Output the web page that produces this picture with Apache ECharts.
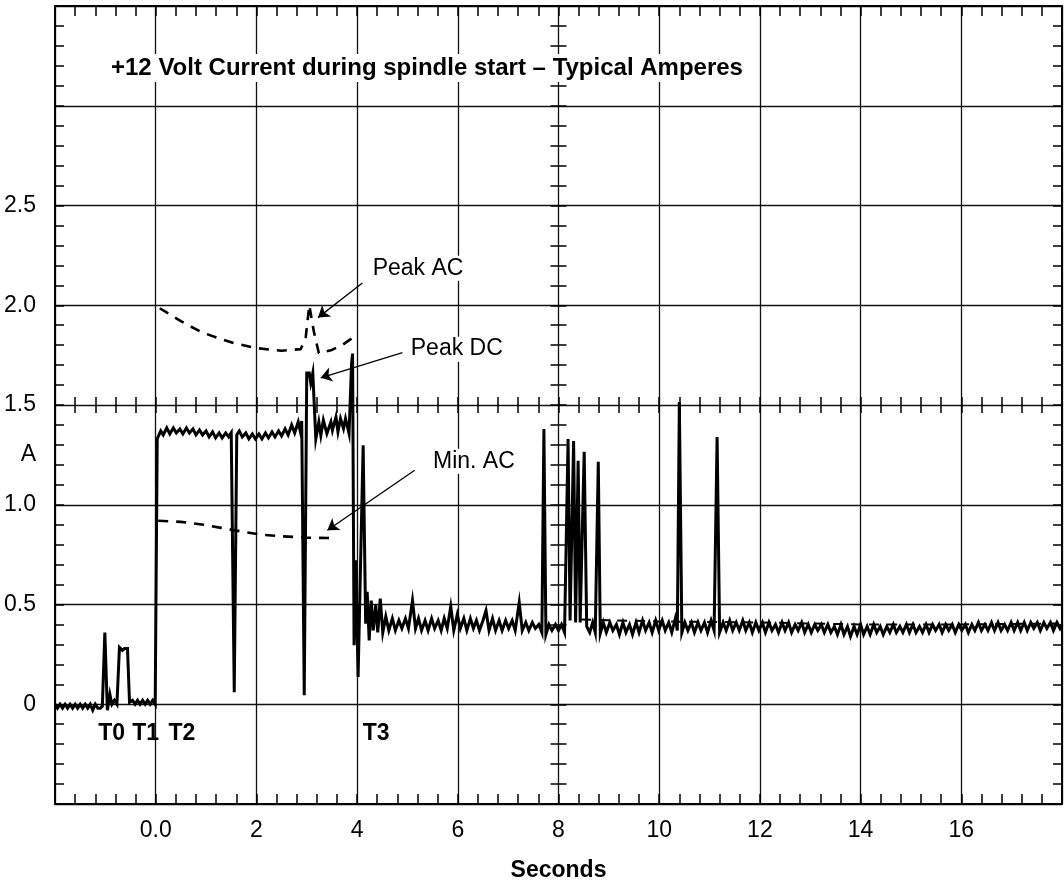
<!DOCTYPE html>
<html><head><meta charset="utf-8">
<script src="https://cdn.jsdelivr.net/npm/echarts@6/dist/echarts.min.js"></script>
<style>html,body{margin:0;padding:0;background:#fff}#c{width:1064px;height:880px}</style>
</head><body><div id="c"></div>
<script>
const titleText = '+12 Volt Current during spindle start \u2013 Typical Amperes';
const xAxisName = 'Seconds';
const xTickValues = [0, 2, 4, 6, 8, 10, 12, 14, 16];
const xTickLabels = ['0.0', '2', '4', '6', '8', '10', '12', '14', '16'];
const yTickValues = [0, 0.5, 1, 1.5, 2, 2.5];
const yTickLabels = ['0', '0.5', '1.0', '1.5', '2.0', '2.5'];
const yUnitValue = 1.25;
const yUnitLabel = 'A';

// main current trace (seconds, amperes)
const preStart = [
  [-2.00,0.00],[-1.95,-0.02],[-1.90,0.00],[-1.85,-0.02],[-1.80,0.00],[-1.75,-0.02],[-1.70,0.00],[-1.65,-0.02],
  [-1.60,0.00],[-1.55,-0.02],[-1.50,0.00],[-1.45,-0.02],[-1.40,0.00],[-1.35,-0.02],[-1.30,0.00],[-1.25,-0.03],
  [-1.20,0.00],[-1.15,-0.02],[-1.10,-0.02],[-1.06,-0.01],[-1.01,0.36],[-0.96,-0.03],[-0.91,0.05],[-0.87,0.00],
  [-0.82,0.02],[-0.77,0.00],[-0.74,0.01],[-0.72,0.285],[-0.66,0.27],[-0.62,0.28],[-0.56,0.28],[-0.52,0.01],
  [-0.46,0.02],[-0.41,0.00],[-0.36,0.02],[-0.31,0.00],[-0.26,0.02],[-0.21,0.00],[-0.16,0.02],[-0.11,0.00],
  [-0.06,0.02],[-0.01,0.00],[0.01,0.00]
];
const runPlateau = [
  [0.03,1.33],[0.10,1.37],[0.15,1.35],[0.22,1.385],[0.28,1.355],[0.35,1.385],[0.41,1.36],[0.48,1.38],
  [0.54,1.355],[0.61,1.385],[0.67,1.36],[0.74,1.38],[0.80,1.35],[0.87,1.375],[0.93,1.35],[1.00,1.37],
  [1.06,1.34],[1.13,1.365],[1.19,1.335],[1.26,1.36],[1.32,1.335],[1.39,1.36],[1.45,1.34],[1.50,1.36],
  [1.52,1.35],[1.56,0.06],[1.61,1.35],
  [1.66,1.37],[1.72,1.34],[1.79,1.36],[1.85,1.33],[1.92,1.355],[1.98,1.33],[2.05,1.355],[2.11,1.33],
  [2.18,1.36],[2.24,1.335],[2.31,1.365],[2.37,1.34],[2.44,1.37],[2.50,1.345],[2.57,1.38],[2.63,1.35],
  [2.70,1.40],[2.76,1.36],[2.83,1.415],[2.87,1.37],[2.90,1.42],[2.95,0.045],[3.00,1.66],[3.05,1.66],
  [3.08,1.61],[3.12,1.66],[3.18,1.33]
];
const peakSegment = [
  [3.24,1.415],[3.28,1.348],[3.33,1.424],[3.40,1.357],[3.48,1.415],[3.51,1.373],[3.58,1.44],[3.62,1.365],
  [3.67,1.432],[3.73,1.382],[3.77,1.432],[3.84,1.357],[3.89,1.708],[3.91,1.758],[3.94,0.296],[3.97,0.722],
  [4.02,0.137],[4.12,1.298],[4.17,0.404],[4.20,0.563],[4.24,0.32]
];
const settleSegment = [
  [4.28,0.52],[4.32,0.37],[4.37,0.50],[4.41,0.36],[4.46,0.53],[4.51,0.36],[4.57,0.44],[4.63,0.37],
  [4.70,0.43],[4.76,0.37],[4.83,0.42],[4.89,0.38],[4.96,0.43],[5.02,0.38],[5.10,0.52],[5.16,0.38],
  [5.22,0.43],[5.28,0.37],[5.35,0.42],[5.41,0.37],[5.48,0.43],[5.54,0.38],[5.61,0.42],[5.67,0.37],
  [5.73,0.43],[5.79,0.38],[5.86,0.49],[5.92,0.37],[5.99,0.45],[6.05,0.38],[6.12,0.43],[6.18,0.37],
  [6.25,0.43],[6.31,0.38],[6.37,0.42],[6.43,0.37],[6.50,0.42],[6.56,0.47],[6.62,0.37],[6.69,0.43],
  [6.75,0.37],[6.82,0.42],[6.88,0.37],[6.95,0.42],[7.01,0.38],[7.08,0.42],[7.14,0.37],[7.22,0.51],
  [7.28,0.37],[7.35,0.41],[7.41,0.37],[7.48,0.41],[7.54,0.38],[7.61,0.40],[7.67,0.36],[7.71,1.38],
  [7.75,0.35],[7.81,0.40],[7.87,0.37],[7.94,0.40],[8.00,0.37],[8.06,0.40],[8.12,0.36],[8.19,1.33],
  [8.23,0.42],[8.30,1.32],[8.34,0.41],[8.39,1.22],[8.43,0.41],[8.51,1.265],[8.56,0.39],[8.62,0.36],
  [8.68,0.41],[8.73,0.36],[8.79,1.215],[8.83,0.355]
];
const tailSegment = [
  [8.89,0.41],[8.95,0.36],[9.02,0.41],[9.08,0.37],[9.15,0.40],[9.21,0.35],[9.28,0.41],[9.34,0.36],
  [9.41,0.40],[9.47,0.35],[9.54,0.41],[9.60,0.36],[9.67,0.42],[9.73,0.37],[9.80,0.41],[9.86,0.36],
  [9.93,0.42],[9.99,0.37],[10.06,0.42],[10.12,0.37],[10.19,0.41],[10.25,0.36],[10.32,0.43],[10.36,0.37],
  [10.40,1.515],[10.45,0.36],[10.51,0.41],[10.57,0.37],[10.64,0.41],[10.70,0.36],[10.77,0.41],[10.83,0.37],
  [10.90,0.41],[10.96,0.36],[11.03,0.42],[11.09,0.37],[11.15,1.34],[11.20,0.36],[11.27,0.41],[11.33,0.37],
  [11.40,0.42],[11.46,0.37],[11.53,0.41],[11.59,0.37],[11.66,0.42],[11.72,0.37],[11.79,0.41],[11.85,0.36],
  [11.92,0.41],[11.98,0.37],[12.05,0.41],[12.11,0.36],[12.18,0.41],[12.24,0.37],[12.31,0.40],[12.37,0.36],
  [12.44,0.41],[12.50,0.37],[12.57,0.41],[12.63,0.36],[12.70,0.40],[12.76,0.37],[12.83,0.41],[12.89,0.36],
  [12.96,0.40],[13.02,0.36],[13.09,0.40],[13.15,0.37],[13.22,0.40],[13.28,0.36],[13.35,0.40],[13.41,0.36],
  [13.48,0.39],[13.54,0.35],[13.61,0.40],[13.67,0.35],[13.74,0.39],[13.80,0.34],[13.87,0.39],[13.93,0.35],
  [14.00,0.40],[14.06,0.35],[14.13,0.39],[14.19,0.35],[14.26,0.40],[14.32,0.36],[14.39,0.39],[14.45,0.35],
  [14.52,0.39],[14.58,0.36],[14.65,0.40],[14.71,0.36],[14.78,0.39],[14.84,0.36],[14.91,0.40],[14.97,0.36],
  [15.04,0.40],[15.10,0.36],[15.17,0.39],[15.23,0.36],[15.30,0.40],[15.36,0.36],[15.43,0.40],[15.49,0.37],
  [15.56,0.40],[15.62,0.36],[15.69,0.40],[15.75,0.37],[15.82,0.40],[15.88,0.36],[15.95,0.40],[16.01,0.37],
  [16.08,0.40],[16.14,0.36],[16.21,0.40],[16.27,0.37],[16.34,0.41],[16.40,0.37],[16.47,0.40],[16.53,0.37],
  [16.60,0.41],[16.66,0.37],[16.73,0.41],[16.79,0.37],[16.86,0.40],[16.92,0.37],[16.99,0.41],[17.05,0.37],
  [17.12,0.41],[17.18,0.37],[17.25,0.41],[17.31,0.37],[17.38,0.41],[17.44,0.38],[17.51,0.41],[17.57,0.37],
  [17.64,0.41],[17.70,0.38],[17.77,0.41],[17.83,0.37],[17.90,0.41],[17.96,0.38],[18.00,0.40]
];
// dashed envelopes
const peakAC = [
  [0.08,1.985],[0.5,1.92],[0.9,1.866],[1.3,1.83],[1.55,1.81],[2.0,1.785],[2.5,1.772],[2.88,1.78],
  [2.98,1.84],[3.05,2.0],[3.14,1.87],[3.24,1.76],[3.48,1.774],[3.7,1.80],[3.93,1.84]
];
const minAC = [
  [0.05,0.92],[0.5,0.914],[0.95,0.90],[1.3,0.884],[1.7,0.866],[2.1,0.85],[2.5,0.842],[3.0,0.835],[3.6,0.833]
];
const tailAvg = [[8.45,0.425],[10,0.415],[12,0.41],[14,0.40],[16,0.40],[18,0.405]];
// annotations
const noteLabels = [
  {name:'Peak AC', value:[5.21,2.185]},
  {name:'Peak DC', value:[5.98,1.78]},
  {name:'Min. AC', value:[6.32,1.218]}
];
const noteArrows = [
  [[4.105,2.112],[3.224,1.938]],
  [[4.90,1.763],[3.277,1.636]],
  [[5.144,1.173],[3.41,0.872]]
];
const timeMarks = [
  {name:'T0', value:[-0.875,-0.145]},
  {name:'T1', value:[-0.2,-0.145]},
  {name:'T2', value:[0.52,-0.145]},
  {name:'T3', value:[4.38,-0.145]}
];

const FONT = 'Liberation Sans, Arial, sans-serif';
const BLACK = '#000';
const trace = [].concat(preStart, runPlateau, peakSegment, settleSegment, tailSegment);

function xFmt(v){ const i = xTickValues.findIndex(t => Math.abs(t - v) < 1e-6); return i >= 0 ? xTickLabels[i] : ''; }
function yFmt(v){ const i = yTickValues.findIndex(t => Math.abs(t - v) < 1e-6); return i >= 0 ? yTickLabels[i] : ''; }
function unitFmt(v){ return Math.abs(v - yUnitValue) < 1e-6 ? yUnitLabel : ''; }

const tickStyle = {color: BLACK, width: 1.5};
function xAx(extra){
  return Object.assign({
    type:'value', min:-2, max:18, interval:2,
    axisLine:{show:true, onZero:false, lineStyle:{color:BLACK, width:2}},
    axisTick:{show:true, inside:true, length:10, lineStyle:tickStyle},
    minorTick:{show:true, splitNumber:5, length:10, lineStyle:tickStyle},
    splitLine:{show:false}, axisLabel:{show:false}
  }, extra);
}
function yAx(extra){
  return Object.assign({
    type:'value', min:-0.5, max:3.5, interval:0.5,
    axisLine:{show:true, onZero:false, lineStyle:{color:BLACK, width:2}},
    axisTick:{show:true, inside:true, length:9, lineStyle:tickStyle},
    minorTick:{show:true, splitNumber:5, length:9, lineStyle:tickStyle},
    splitLine:{show:false}, axisLabel:{show:false}
  }, extra);
}

const chart = echarts.init(document.getElementById('c'), null, {renderer:'canvas'});
chart.setOption({
  animation:false,
  backgroundColor:'#fff',
  textStyle:{fontFamily:FONT},
  title:{
    text:titleText, left:108, top:54, padding:[1,3], backgroundColor:'#fff',
    textStyle:{fontFamily:FONT, fontSize:24, fontWeight:'bold', color:BLACK, lineHeight:26}
  },
  grid:{left:55, right:2, top:6, bottom:76, outerBoundsMode:'none', containLabel:false},
  xAxis:[
    xAx({position:'bottom',
      splitLine:{show:true, lineStyle:{color:'#111', width:1.3}},
      axisLabel:{show:true, formatter:xFmt, fontSize:23, color:BLACK, margin:15, fontFamily:FONT},
      name:xAxisName, nameLocation:'middle', nameGap:55,
      nameTextStyle:{fontSize:23, fontWeight:'bold', color:BLACK, fontFamily:FONT}}),
    xAx({position:'top'}),
    xAx({position:'bottom', offset:-399, axisLine:{show:false, onZero:false}, axisTick:{show:true, inside:true, length:8, lineStyle:tickStyle}, minorTick:{show:true, splitNumber:5, length:8, lineStyle:tickStyle}}),
    xAx({position:'bottom', offset:-399, axisLine:{show:false, onZero:false}, axisTick:{show:true, inside:false, length:8, lineStyle:tickStyle}, minorTick:{show:true, splitNumber:5, length:8, lineStyle:tickStyle}})
  ],
  yAxis:[
    yAx({position:'left',
      splitLine:{show:true, lineStyle:{color:'#111', width:1.3}},
      axisLabel:{show:true, formatter:yFmt, fontSize:23, color:BLACK, margin:19, fontFamily:FONT}}),
    yAx({position:'right'}),
    yAx({position:'left', offset:-503.5, axisLine:{show:false, onZero:false}, axisTick:{show:true, inside:true, length:8, lineStyle:tickStyle}, minorTick:{show:true, splitNumber:5, length:8, lineStyle:tickStyle}}),
    yAx({position:'left', offset:-503.5, axisLine:{show:false, onZero:false}, axisTick:{show:true, inside:false, length:8, lineStyle:tickStyle}, minorTick:{show:true, splitNumber:5, length:8, lineStyle:tickStyle}}),
    {type:'value', position:'left', min:-0.5, max:3.5, interval:0.25,
      axisLine:{show:false, onZero:false}, axisTick:{show:false}, minorTick:{show:false}, splitLine:{show:false},
      axisLabel:{show:true, formatter:unitFmt, fontSize:23, color:BLACK, margin:19, fontFamily:FONT}}
  ],
  series:[
    {type:'line', name:'tail avg', data:tailAvg, showSymbol:false, symbol:'none', z:2,
      lineStyle:{color:BLACK, width:2, type:[10,8]}},
    {type:'line', name:'Peak AC', data:peakAC, showSymbol:false, symbol:'none', z:3,
      lineStyle:{color:BLACK, width:2.6, type:[10,8]}},
    {type:'line', name:'Min. AC', data:minAC, showSymbol:false, symbol:'none', z:3,
      lineStyle:{color:BLACK, width:2.6, type:[10,8]}},
    {type:'line', name:'Current', data:trace, showSymbol:false, symbol:'none', z:4,
      lineStyle:{color:BLACK, width:3, join:'miter'}},
    {type:'scatter', name:'notes', data:noteLabels, symbolSize:1, z:6,
      itemStyle:{color:'rgba(0,0,0,0)', opacity:1},
      label:{show:true, position:'inside', formatter:'{b}', fontSize:23, color:BLACK, opacity:1, fontFamily:FONT,
        backgroundColor:'#fff', padding:[1,2]},
      emphasis:{disabled:true},
      markLine:{silent:true, symbol:['none','arrow'], symbolSize:11, animation:false,
        label:{show:false}, lineStyle:{color:BLACK, width:1.3, type:'solid', opacity:1},
        data: noteArrows.map(a => [{coord:a[0]}, {coord:a[1]}])}},
    {type:'scatter', name:'times', data:timeMarks, symbolSize:1, z:6,
      itemStyle:{color:'rgba(0,0,0,0)', opacity:1},
      emphasis:{disabled:true},
      label:{show:true, position:'inside', formatter:'{b}', fontSize:23, fontWeight:'bold', color:BLACK, opacity:1, fontFamily:FONT}}
  ]
});
</script></body></html>
